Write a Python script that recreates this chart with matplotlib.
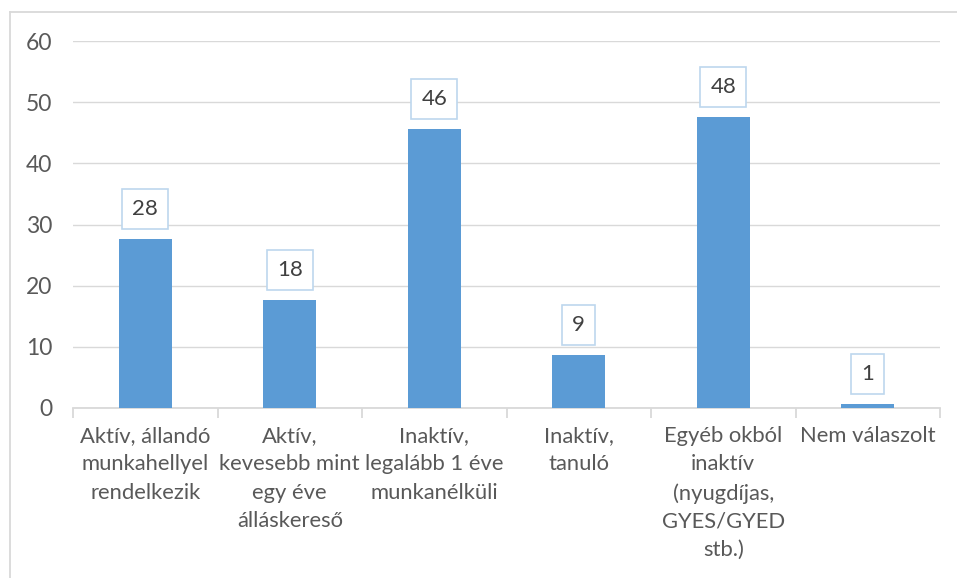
import matplotlib.pyplot as plt
from matplotlib.lines import Line2D

categories = ['Aktív, állandó\nmunkahellyel\nrendelkezik',
              'Aktív,\nkevesebb mint\negy éve\nálláskereső',
              'Inaktív,\nlegalább 1 éve\nmunkanélküli',
              'Inaktív,\ntanuló',
              'Egyéb okból\ninaktív\n(nyugdíjas,\nGYES/GYED\nstb.)',
              'Nem válaszolt']
values = [27.6, 17.6, 45.6, 8.6, 47.6, 0.6]
yticks = [0, 10, 20, 30, 40, 50, 60]

plt.rcParams['font.family'] = ['Lato', 'DejaVu Sans']

fig = plt.figure(figsize=(9.57, 5.78), dpi=100)
ax = fig.add_axes([73/957, 1-408/578, (940-73)/957, (408-41)/578])

x = list(range(len(categories)))
ax.bar(x, values, width=0.37, color='#5b9bd5', zorder=3)

for xi, v in zip(x, values):
    ax.annotate('{:.0f}'.format(v), (xi, v), xytext=(0, 14.5),
                textcoords='offset points', ha='center', va='bottom',
                fontsize=16, color='#404040', zorder=4,
                bbox=dict(boxstyle='square,pad=0.45', fc='white',
                          ec='#bdd7ee', lw=1.2))

ax.set_xlim(-0.5, len(categories) - 0.5)
ax.set_ylim(0, 60)
ax.set_yticks(yticks)
ax.yaxis.grid(True, color='#d9d9d9', lw=1, zorder=0)
ax.tick_params(axis='y', length=0, pad=15, labelsize=16.5, labelcolor='#595959')

ax.set_xticks(x)
ax.set_xticklabels(categories, fontsize=15.8, color='#595959', linespacing=1.52)
ax.set_xticks([i - 0.5 for i in range(len(categories) + 1)], minor=True)
ax.tick_params(axis='x', which='major', length=0, pad=13)
ax.tick_params(axis='x', which='minor', length=7, color='#d9d9d9', width=1.3)

for s in ['top', 'right', 'left']:
    ax.spines[s].set_visible(False)
ax.spines['bottom'].set_color('#d9d9d9')
ax.spines['bottom'].set_linewidth(1.3)

# outer chart frame (only left and top edges visible)
fig.add_artist(Line2D([10/957, 10/957], [0, 1-12/578], color='#d9d9d9', lw=1.3))
fig.add_artist(Line2D([10/957, 1], [1-12/578, 1-12/578], color='#d9d9d9', lw=1.3))

fig.savefig('out.png', dpi=100)
